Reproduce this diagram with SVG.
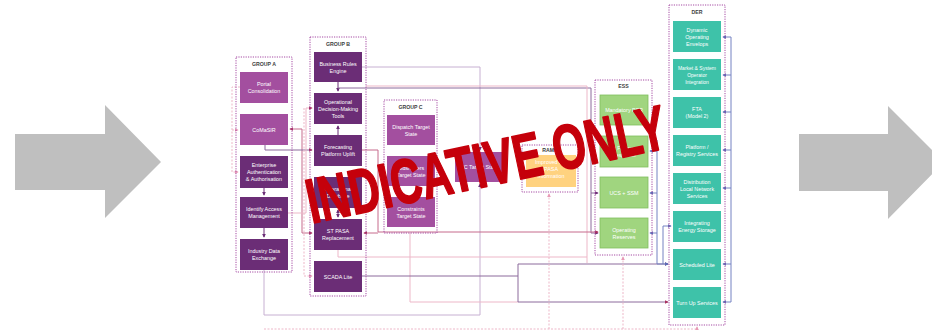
<svg xmlns="http://www.w3.org/2000/svg" width="932" height="335" viewBox="0 0 932 335">
<style>
.bg{fill:#fff}
.arrow{fill:#BFBFBF}
.grp{fill:none;stroke:#A54AA3;stroke-width:1;stroke-dasharray:1.2 1.2}
.gt{font-family:"Liberation Sans",Arial,sans-serif;font-size:5.2px;font-weight:bold;fill:#404040;text-anchor:middle}
.nt{font-family:"Liberation Sans",Arial,sans-serif;font-size:5.4px;fill:#fff;text-anchor:middle}
.lp{fill:#A34F9F}
.dp{fill:#6B2D76}
.gr{fill:#A0D57F;stroke:#7FBF5E;stroke-width:0.8}
.te{fill:#3EC2A9}
.or{fill:#FFD27F}
.c{fill:none;stroke-width:1}
.pu{stroke:#8C6A9C}
.lpu{stroke:#C7B0D2}
.pk{stroke:#EDB7C8}
.rd{stroke:#C66A8C}
.bl{stroke:#7482C2}
.dk{stroke:#6B2D76}
.dash{stroke-dasharray:2 1.5}
.wm{font-family:"Liberation Sans",Arial,sans-serif;font-weight:bold;font-size:63px;fill:#C5000B;stroke:#C5000B;stroke-width:1.6;stroke-linejoin:round;text-anchor:middle}
</style>
<defs>
<marker id="mPu" viewBox="0 0 6 6" refX="5" refY="3" markerWidth="4" markerHeight="4" orient="auto-start-reverse" markerUnits="userSpaceOnUse"><path d="M0,0 L6,3 L0,6z" fill="#6B2D76"/></marker>
<marker id="mRd" viewBox="0 0 6 6" refX="5" refY="3" markerWidth="4" markerHeight="4" orient="auto-start-reverse" markerUnits="userSpaceOnUse"><path d="M0,0 L6,3 L0,6z" fill="#A8305E"/></marker>
<marker id="mPk" viewBox="0 0 6 6" refX="5" refY="3" markerWidth="4" markerHeight="4" orient="auto-start-reverse" markerUnits="userSpaceOnUse"><path d="M0,0 L6,3 L0,6z" fill="#E89AB6"/></marker>
<marker id="mBl" viewBox="0 0 6 6" refX="5" refY="3" markerWidth="4" markerHeight="4" orient="auto-start-reverse" markerUnits="userSpaceOnUse"><path d="M0,0 L6,3 L0,6z" fill="#5B6BB5"/></marker>
</defs>
<rect class="bg" width="932" height="335"/>
<polygon class="arrow" points="15,134 105,134 105,105 161,162 105,218 105,190 15,190"/>
<polygon class="arrow" points="799,134 888,134 888,106 944,162 888,219 888,191 799,191"/>

<g id="connectors">
<path class="c pk dash" d="M240,87 H232 V172 H238" marker-end="url(#mPk)"/>
<path class="c pk dash" d="M232,130 H238" marker-end="url(#mPk)"/>
<path class="c dk" d="M264,188 V195" marker-end="url(#mPu)"/>
<path class="c dk" d="M264,228 V237" marker-end="url(#mPu)"/>
<path class="c rd" d="M290,129 H302 V233 H312" marker-start="url(#mRd)" marker-end="url(#mRd)"/>
<path class="c pu" d="M265,145 V150 H312" marker-end="url(#mRd)"/>
<path class="c pk" d="M288,213 H306 V108 H312" marker-end="url(#mRd)"/>
<path class="c pk dash" d="M304,108 V276 H312" marker-end="url(#mPk)"/>
<path class="c dk" d="M338,82 V91" marker-end="url(#mPu)"/>
<path class="c dk" d="M338,135 V126" marker-end="url(#mPu)"/>
<path class="c dk" d="M338,210 V217" marker-start="url(#mPu)" marker-end="url(#mPu)"/>
<path class="c lpu" d="M362,67 H480 V150" marker-end="url(#mPu)"/>
<path class="c lpu" d="M264,270 V315 H480 V184" marker-end="url(#mPu)"/>
<path class="c pu" d="M338,88 H591 V233 H598" marker-end="url(#mPu)"/>
<path class="c pu" d="M591,193 H598" marker-end="url(#mPu)"/>
<path class="c pk" d="M366,86 H587 V263"/>
<path class="c rd" d="M362,150 H378 V232 H598" marker-end="url(#mRd)"/>
<path class="c rd" d="M378,233 H364" marker-end="url(#mRd)"/>
<path class="c pk" d="M338,250 V257 H587"/>
<path class="c pk" d="M410,233 V302 H518"/>
<path class="c pu" d="M362,276 H518 V264 H668" marker-end="url(#mPu)"/>
<path class="c pu" d="M518,276 V302 H668" marker-end="url(#mRd)"/>
<path class="c bl" d="M657,151 H650" marker-end="url(#mBl)"/>
<path class="c bl" d="M657,193 H650" marker-end="url(#mBl)"/>
<path class="c bl" d="M657,233 H650" marker-end="url(#mBl)"/>
<path class="c bl" d="M657,140 V264 H668" marker-end="url(#mBl)"/>
<path class="c bl" d="M663,264 V226 H671" marker-end="url(#mBl)"/>
<path class="c bl" d="M731,37 V302"/>
<path class="c bl" d="M731,37 H723" marker-end="url(#mBl)"/>
<path class="c bl" d="M731,75 H723" marker-end="url(#mBl)"/>
<path class="c bl" d="M731,112 H723" marker-end="url(#mBl)"/>
<path class="c bl" d="M731,150 H723" marker-end="url(#mBl)"/>
<path class="c bl" d="M731,188 H723" marker-end="url(#mBl)"/>
<path class="c bl" d="M731,264 H723" marker-end="url(#mBl)"/>
<path class="c bl" d="M731,302 H723" marker-end="url(#mBl)"/>
<path class="c pk dash" d="M264,329 H697 V327" marker-end="url(#mPk)"/>
<path class="c pk dash" d="M549,329 V194" marker-end="url(#mPk)"/>
<path class="c pk dash" d="M623,329 V257" marker-end="url(#mPk)"/>
</g>

<g id="groupA">
<rect class="grp" x="236" y="57" width="56" height="215"/>
<text class="gt" x="264" y="66">GROUP A</text>
</g>
<g id="portal"><rect class="lp" x="240" y="72" width="48" height="31"/><text class="nt" x="264" y="86">Portal</text><text class="nt" x="264" y="93">Consolidation</text></g>
<g id="comasir"><rect class="lp" x="240" y="114" width="48" height="31"/><text class="nt" x="264" y="131.5">CoMaSIR</text></g>
<g id="eaa"><rect class="dp" x="240" y="156" width="48" height="32"/><text class="nt" x="264" y="167">Enterprise</text><text class="nt" x="264" y="174">Authentication</text><text class="nt" x="264" y="181">&amp; Authorisation</text></g>
<g id="iam"><rect class="dp" x="240" y="197" width="48" height="31"/><text class="nt" x="264" y="211">Identify Access</text><text class="nt" x="264" y="218">Management</text></g>
<g id="ide"><rect class="dp" x="240" y="239" width="48" height="31"/><text class="nt" x="264" y="253">Industry Data</text><text class="nt" x="264" y="260">Exchange</text></g>

<g id="groupB">
<rect class="grp" x="310" y="37" width="56" height="259"/>
<text class="gt" x="338" y="46">GROUP B</text>
</g>
<g id="bre"><rect class="dp" x="314" y="52" width="48" height="30"/><text class="nt" x="338" y="65.5">Business Rules</text><text class="nt" x="338" y="72.5">Engine</text></g>
<g id="odmt"><rect class="dp" x="314" y="93" width="48" height="31"/><text class="nt" x="338" y="103.5">Operational</text><text class="nt" x="338" y="110.5">Decision-Making</text><text class="nt" x="338" y="117.5">Tools</text></g>
<g id="fpu"><rect class="dp" x="314" y="135" width="48" height="31"/><text class="nt" x="338" y="149">Forecasting</text><text class="nt" x="338" y="156">Platform Uplift</text></g>
<g id="odb"><rect class="dp" x="314" y="177" width="48" height="31"/><text class="nt" x="338" y="191">Operational</text><text class="nt" x="338" y="198">Database</text></g>
<g id="stpasa"><rect class="dp" x="314" y="219" width="48" height="31"/><text class="nt" x="338" y="233">ST PASA</text><text class="nt" x="338" y="240">Replacement</text></g>
<g id="scada"><rect class="dp" x="314" y="261" width="48" height="31"/><text class="nt" x="338" y="278.5">SCADA Lite</text></g>

<g id="groupC">
<rect class="grp" x="384" y="100" width="53" height="133"/>
<text class="gt" x="410.5" y="109">GROUP C</text>
</g>
<g id="dts"><rect class="lp" x="387" y="115" width="48" height="30"/><text class="nt" x="411" y="128.5">Dispatch Target</text><text class="nt" x="411" y="135.5">State</text></g>
<g id="bots"><rect class="lp" x="387" y="156" width="48" height="30"/><text class="nt" x="411" y="169.5">Bids/Offers</text><text class="nt" x="411" y="176.5">Target State</text></g>
<g id="cts"><rect class="lp" x="387" y="197" width="48" height="30"/><text class="nt" x="411" y="210.5">Constraints</text><text class="nt" x="411" y="217.5">Target State</text></g>
<g id="rcts"><rect class="lp" x="455" y="152" width="48" height="30"/><text class="nt" x="479" y="169">RC Target State</text></g>

<g id="rams">
<rect class="grp" x="522" y="145" width="56" height="47"/>
<text class="gt" x="550" y="152">RAMS</text>
<rect class="or" x="526" y="155" width="50" height="32"/>
<text class="nt" x="551" y="164">Improved MT</text><text class="nt" x="551" y="171">PASA</text><text class="nt" x="551" y="178">Information</text>
</g>

<g id="ess">
<rect class="grp" x="595" y="80" width="57" height="175"/>
<text class="gt" x="623.5" y="88">ESS</text>
</g>
<g id="mpfr"><rect class="gr" x="600" y="95" width="48" height="30"/><text class="nt" x="624" y="112">Mandatory PFR</text></g>
<g id="ffr"><rect class="gr" x="600" y="136" width="48" height="31"/><text class="nt" x="624" y="150">Fast Frequency</text><text class="nt" x="624" y="157">Response</text></g>
<g id="ucs"><rect class="gr" x="600" y="177" width="48" height="31"/><text class="nt" x="624" y="194.5">UCS + SSM</text></g>
<g id="opres"><rect class="gr" x="600" y="218" width="48" height="30"/><text class="nt" x="624" y="231.5">Operating</text><text class="nt" x="624" y="238.5">Reserves</text></g>

<g id="der">
<rect class="grp" x="669" y="5" width="56" height="320"/>
<text class="gt" x="697" y="14">DER</text>
</g>
<g id="doe"><rect class="te" x="673" y="21" width="48" height="31"/><text class="nt" x="697" y="31.5">Dynamic</text><text class="nt" x="697" y="38.5">Operating</text><text class="nt" x="697" y="45.5">Envelops</text></g>
<g id="msoi"><rect class="te" x="673" y="59" width="48" height="31"/><text class="nt" x="697" y="69.5" style="font-size:5px">Market &amp; System</text><text class="nt" x="697" y="76.5" style="font-size:5px">Operator</text><text class="nt" x="697" y="83.5" style="font-size:5px">Integration</text></g>
<g id="fta"><rect class="te" x="673" y="97" width="48" height="31"/><text class="nt" x="697" y="111">FTA</text><text class="nt" x="697" y="118">(Model 2)</text></g>
<g id="prs"><rect class="te" x="673" y="135" width="48" height="31"/><text class="nt" x="697" y="149">Platform /</text><text class="nt" x="697" y="156">Registry Services</text></g>
<g id="dlns"><rect class="te" x="673" y="173" width="48" height="31"/><text class="nt" x="697" y="183.5">Distribution</text><text class="nt" x="697" y="190.5">Local Network</text><text class="nt" x="697" y="197.5">Services</text></g>
<g id="ies"><rect class="te" x="673" y="211" width="48" height="31"/><text class="nt" x="697" y="225">Integrating</text><text class="nt" x="697" y="232">Energy Storage</text></g>
<g id="sl"><rect class="te" x="673" y="249" width="48" height="31"/><text class="nt" x="697" y="266.5">Scheduled Lite</text></g>
<g id="tus"><rect class="te" x="673" y="287" width="48" height="31"/><text class="nt" x="697" y="304.5">Turn Up Services</text></g>

<text class="wm" x="486" y="186" transform="rotate(-12 486 164)" textLength="366" lengthAdjust="spacingAndGlyphs">INDICATIVE ONLY</text>
</svg>
